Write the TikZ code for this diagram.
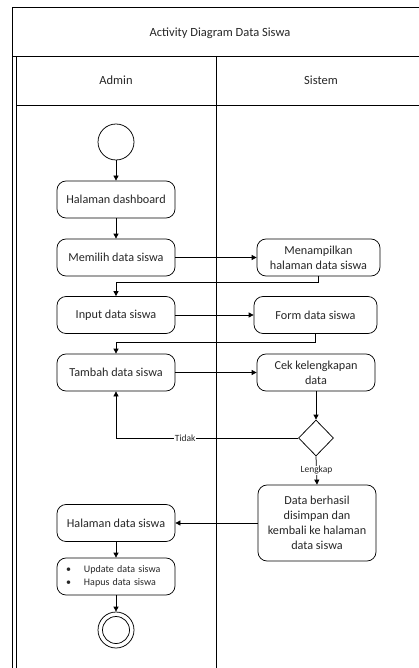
\documentclass[tikz,border=0pt]{standalone}
\usepackage{fontspec}
\setmainfont{Carlito}
\usetikzlibrary{arrows.meta,shapes.geometric}
\begin{document}
\begin{tikzpicture}[x=1pt,y=-1pt,
  frame/.style={draw=black, line width=0.9pt},
  act/.style={draw, line width=0.75pt, rounded corners=9pt, minimum width=118pt, minimum height=37pt, align=center, inner sep=2pt, font=\fontsize{12.2}{15}\selectfont, text=black!85},
  arr/.style={draw, line width=0.75pt, -{Triangle[length=5pt,width=5pt]}},
  lbl/.style={font=\fontsize{9.5}{10}\selectfont, fill=white, inner sep=0.5pt, text=black!85},
  hdr/.style={font=\fontsize{12.5}{14}\selectfont, text=black!85}]
\useasboundingbox (0,0) rectangle (419,668);
% frame
\draw[frame] (12,675) -- (12,7) -- (425,7);
\draw[frame] (12,56) -- (425,56);
\draw[frame] (16,675) -- (16,56);
\draw[frame] (16,105) -- (425,105);
\draw[frame] (216,56) -- (216,675);
\node[hdr] (title) at (220,33) {Activity Diagram Data Siswa};
\node[hdr] (admin) at (116,80) {Admin};
\node[hdr] (sistem) at (321,80) {Sistem};
% nodes
\node[circle, draw, line width=0.75pt, minimum size=36pt, inner sep=0] (start) at (116,142) {};
\node[act] (dash) at (116,199.5) {Halaman dashboard};
\node[act] (memilih) at (116,257.5) {Memilih data siswa};
\node[act, minimum width=123pt] (tampil) at (318.5,257.5) {Menampilkan\\halaman data siswa};
\node[act] (input) at (116,315) {Input data siswa};
\node[act, minimum width=123pt] (form) at (315.5,315) {Form data siswa};
\node[act] (tambah) at (116,372.5) {Tambah data siswa};
\node[act] (cek) at (316,372.5) {Cek kelengkapan\\data};
\node[diamond, draw, line width=0.75pt, minimum width=35pt, minimum height=36pt, inner sep=0] (dec) at (316,438) {};
\node[act, minimum height=76pt] (berhasil) at (317,523) {Data berhasil\\disimpan dan\\kembali ke halaman\\data siswa};
\node[act] (hal) at (116,523) {Halaman data siswa};
\node[act, align=left, text width=100pt, font=\fontsize{10}{13}\selectfont] (opsi) at (116,576.5) {•\hspace{13pt}Update data siswa\\•\hspace{13pt}Hapus data siswa};
\node[circle, draw, line width=0.75pt, minimum size=36pt, inner sep=0] (end) at (116,630) {};
\draw[line width=0.75pt] (end) circle (13.5pt);
% connectors
\draw[arr] (start) -- (dash);
\draw[arr] (dash) -- (memilih);
\draw[arr] (memilih) -- (tampil);
\draw[arr] (tampil.south) -- ++(0,6) -| (input.north);
\draw[arr] (input) -- (form);
\draw[arr] (form.south) -- ++(0,8) -| (tambah.north);
\draw[arr] (tambah) -- (cek);
\draw[arr] (cek) -- (dec);
\draw[arr] (dec.west) -| (tambah.south) node[lbl, pos=0.31] {Tidak};
\draw[arr] (dec.south) -- (berhasil.north) node[lbl, midway] {Lengkap};
\draw[arr] (berhasil) -- (hal);
\draw[arr] (hal) -- (opsi);
\draw[arr] (opsi) -- (end);
\end{tikzpicture}
\end{document}
